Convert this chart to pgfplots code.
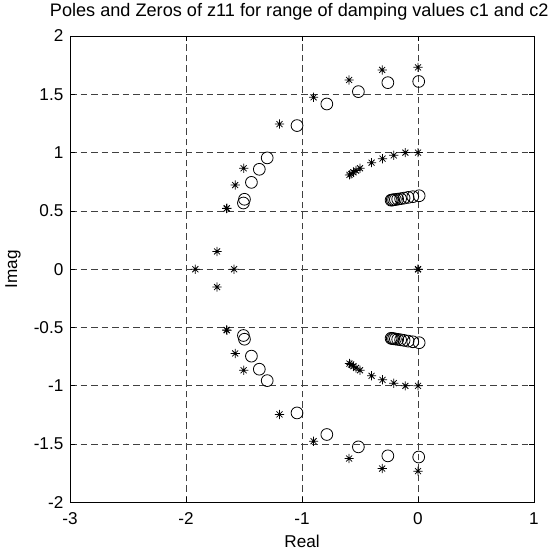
\documentclass[border=0pt]{standalone}
\usepackage{fontspec}
\setmainfont{Liberation Sans}
\usepackage{pgfplots}
\pgfplotsset{compat=1.18}

% MATLAB-like asterisk: plus and cross
\pgfdeclareplotmark{mstar}{%
  \pgfpathmoveto{\pgfqpoint{-\pgfplotmarksize}{0pt}}%
  \pgfpathlineto{\pgfqpoint{\pgfplotmarksize}{0pt}}%
  \pgfpathmoveto{\pgfqpoint{0pt}{-\pgfplotmarksize}}%
  \pgfpathlineto{\pgfqpoint{0pt}{\pgfplotmarksize}}%
  \pgfpathmoveto{\pgfqpoint{-0.65\pgfplotmarksize}{-0.65\pgfplotmarksize}}%
  \pgfpathlineto{\pgfqpoint{0.65\pgfplotmarksize}{0.65\pgfplotmarksize}}%
  \pgfpathmoveto{\pgfqpoint{-0.65\pgfplotmarksize}{0.65\pgfplotmarksize}}%
  \pgfpathlineto{\pgfqpoint{0.65\pgfplotmarksize}{-0.65\pgfplotmarksize}}%
  \pgfusepathqstroke}

\begin{document}
\begin{tikzpicture}
\begin{axis}[
    scale only axis,
    width=464bp, height=466.5bp,
    xmin=-3, xmax=1, ymin=-2, ymax=2,
    xtick={-3,-2,-1,0,1},
    ytick={-2,-1.5,-1,-0.5,0,0.5,1,1.5,2},
    tick align=inside,
    major tick length=5bp,
    axis line style={black, line width=0.9bp},
    tick style={black, line width=0.8bp},
    grid=major,
    grid style={black!75, line width=0.8bp, dash pattern=on 6.5bp off 4bp},
    /pgf/number format/assume math mode=true,
    tick label style={font=\fontsize{17.2}{19}\selectfont},
    xticklabel style={inner sep=0pt, anchor=base, yshift=-21.5bp},
    yticklabel style={inner sep=0pt, anchor=east, xshift=-6.5bp},
    label style={font=\fontsize{17.2}{19}\selectfont},
    xlabel style={at={(axis description cs:0.5,-0.0954)}, anchor=base},
    ylabel style={at={(axis description cs:-0.1142,0.5)}, anchor=base},
    title style={font=\fontsize{18.2}{20}\selectfont,
                 at={(axis description cs:0.494,1.030)}, anchor=base},
    title={Poles and Zeros of z11 for range of damping values c1 and c2},
    xlabel={Real},
    ylabel={Imag},
]
% poles (*)
\addplot[only marks, mark=mstar, mark size=4.6bp, mark options={black, line width=0.75bp}] coordinates {
    (0,1.731) (-0.309,1.709) (-0.594,1.623) (-0.900,1.474) (-1.194,1.245)
    (-1.503,0.866) (-1.576,0.722) (-1.647,0.523) (-1.650,0.520)
    (-1.732,0.153) (-1.920,0) (-1.586,0)
    (0,1.000) (-0.109,1.000) (-0.209,0.977) (-0.306,0.948) (-0.400,0.914)
    (-0.500,0.866) (-0.534,0.846) (-0.557,0.831) (-0.577,0.817) (-0.591,0.809)
    (0,0) (0,0)
    (0,-1.731) (-0.309,-1.709) (-0.594,-1.623) (-0.900,-1.474) (-1.194,-1.245)
    (-1.503,-0.866) (-1.576,-0.722) (-1.647,-0.523) (-1.650,-0.520)
    (-1.732,-0.153)
    (0,-1.000) (-0.109,-1.000) (-0.209,-0.977) (-0.306,-0.948) (-0.400,-0.914)
    (-0.500,-0.866) (-0.534,-0.846) (-0.557,-0.831) (-0.577,-0.817) (-0.591,-0.809)
};
% zeros (o)
\addplot[only marks, mark=o, mark size=5.9bp, mark options={black, line width=0.8bp}] coordinates {
    (0.006,1.610) (-0.260,1.600) (-0.514,1.523) (-0.786,1.417) (-1.043,1.232)
    (-1.300,0.955) (-1.368,0.857) (-1.436,0.745) (-1.496,0.600) (-1.505,0.568)
    (-0.232,0.592) (-0.222,0.594) (-0.210,0.596) (-0.195,0.598) (-0.175,0.601)
    (-0.150,0.605) (-0.120,0.610) (-0.085,0.616) (-0.045,0.622) (0.010,0.630)
    (0.006,-1.610) (-0.260,-1.600) (-0.514,-1.523) (-0.786,-1.417) (-1.043,-1.232)
    (-1.300,-0.955) (-1.368,-0.857) (-1.436,-0.745) (-1.496,-0.600) (-1.505,-0.568)
    (-0.232,-0.592) (-0.222,-0.594) (-0.210,-0.596) (-0.195,-0.598) (-0.175,-0.601)
    (-0.150,-0.605) (-0.120,-0.610) (-0.085,-0.616) (-0.045,-0.622) (0.010,-0.630)
};
\end{axis}
\pgfresetboundingbox
\path[use as bounding box] ([shift={(-70bp,-47.5bp)}]current axis.south west)
    rectangle ([shift={(21bp,36bp)}]current axis.north east);
\end{tikzpicture}
\end{document}
